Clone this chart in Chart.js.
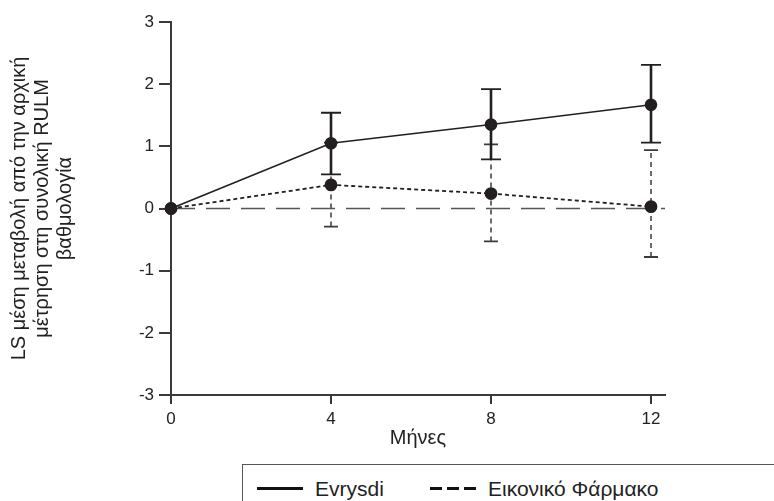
<!DOCTYPE html>
<html>
<head>
<meta charset="utf-8">
<script src="https://cdn.jsdelivr.net/npm/chart.js@4"></script>
<style>
  html, body { margin: 0; padding: 0; background: #ffffff; overflow: hidden; }
  #wrap { position: relative; width: 774px; height: 501px; }
  #legend {
    position: absolute; left: 242px; top: 464px; width: 560px; height: 60px;
    border: 1.5px solid #555; box-sizing: border-box; background: #fff;
    font-family: "Liberation Sans", Arial, sans-serif; font-size: 21px; color: #222;
  }
  #legend .item { position: absolute; top: 11px; line-height: 26px; white-space: nowrap; }
  #legend .sample { display: inline-block; vertical-align: middle; width: 46px; height: 3px; margin-right: 12px; position: relative; top: -2px; }
</style>
</head>
<body>
<div id="wrap">
  <canvas id="c" width="774" height="501"></canvas>
  <div id="legend">
    <div class="item" style="left:14px"><span class="sample" style="background:#111;"></span>Evrysdi</div>
    <div class="item" style="left:187px"><span class="sample" style="height:2.5px;background:repeating-linear-gradient(to right,#111 0 12px,transparent 12px 17px);"></span>Εικονικό Φάρμακο</div>
  </div>
</div>
<script>
// ---- data ----
const months = [0, 4, 8, 12];
const xTicks = [0, 4, 8, 12];
const yTicks = [-3, -2, -1, 0, 1, 2, 3];
const evrysdi = [0, 1.05, 1.35, 1.67];
const evrysdiLow = [null, 0.55, 0.79, 1.06];
const evrysdiHigh = [null, 1.54, 1.92, 2.31];
const placebo = [0, 0.38, 0.24, 0.03];
const placeboLow = [null, -0.29, -0.53, -0.78];
const placeboHigh = [null, 1.06, 1.03, 0.94];
const refX = [0, 12.35];
const refY = [0, 0];
const seriesNames = ['Evrysdi', 'Εικονικό Φάρμακο'];
const xTitle = 'Μήνες';
const yTitle = ['LS μέση μεταβολή από την αρχική', 'μέτρηση στη συνολική RULM', 'βαθμολογία'];

const FONT = '"Liberation Sans", Arial, sans-serif';
const INK = '#231f20';
const AXIS = '#3a3a3a';

const toPts = (xs, ys) => xs.map((x, i) => ({x: x, y: ys[i]}));

const errorBars = {
  id: 'errorBars',
  beforeDatasetsDraw(chart) {
    const ctx = chart.ctx;
    const xs = chart.scales.x, ys = chart.scales.y;
    const sets = [
      {lo: placeboLow, hi: placeboHigh, width: 1.5, dash: [5, 4], cap: 7, color: '#3a3a3a'},
      {lo: evrysdiLow, hi: evrysdiHigh, width: 2.6, dash: [], cap: 10, color: INK}
    ];
    ctx.save();
    sets.forEach(s => {
      months.forEach((m, i) => {
        if (s.lo[i] == null) return;
        const px = xs.getPixelForValue(m);
        const y1 = ys.getPixelForValue(s.lo[i]);
        const y2 = ys.getPixelForValue(s.hi[i]);
        ctx.strokeStyle = s.color;
        ctx.lineWidth = s.width;
        ctx.setLineDash(s.dash);
        ctx.beginPath(); ctx.moveTo(px, y1); ctx.lineTo(px, y2); ctx.stroke();
        ctx.setLineDash([]);
        ctx.lineWidth = 1.8;
        ctx.beginPath();
        ctx.moveTo(px - s.cap, y1); ctx.lineTo(px + s.cap, y1);
        ctx.moveTo(px - s.cap, y2); ctx.lineTo(px + s.cap, y2);
        ctx.stroke();
      });
    });
    ctx.restore();
  }
};

new Chart(document.getElementById('c'), {
  type: 'line',
  data: {
    datasets: [
      {
        label: 'ref', data: toPts(refX, refY), borderColor: '#555', borderWidth: 1.3,
        borderDash: [24, 11], pointRadius: 0, clip: false, order: 3
      },
      {
        label: seriesNames[1], data: toPts(months, placebo), borderColor: INK, borderWidth: 1.8,
        borderDash: [4, 3], pointRadius: 5.5, pointBackgroundColor: INK, pointBorderColor: INK,
        clip: false, order: 2
      },
      {
        label: seriesNames[0], data: toPts(months, evrysdi), borderColor: INK, borderWidth: 1.6,
        pointRadius: 5.5, pointBackgroundColor: INK, pointBorderColor: INK, clip: false, order: 1
      }
    ]
  },
  options: {
    responsive: false,
    animation: false,
    layout: { padding: { top: 22, right: 109, bottom: 0, left: 0 } },
    plugins: { legend: { display: false }, tooltip: { enabled: false } },
    scales: {
      x: {
        type: 'linear', min: 0, max: refX[1],
        afterBuildTicks: s => { s.ticks = xTicks.map(v => ({value: v})); },
        afterFit: s => { s.height = 106; },
        grid: { drawOnChartArea: false, color: AXIS, lineWidth: 2, tickLength: 9 },
        border: { color: AXIS, width: 2 },
        ticks: { color: '#222', font: { family: FONT, size: 17 }, padding: 5, maxRotation: 0 },
        title: { display: true, text: xTitle, color: '#222', font: { family: FONT, size: 20, lineHeight: 1.2 }, padding: { top: 0, bottom: 51 } }
      },
      y: {
        type: 'linear', min: -3, max: 3,
        afterBuildTicks: s => { s.ticks = yTicks.map(v => ({value: v})); },
        afterFit: s => { s.width = 171; },
        grid: { drawOnChartArea: false, color: AXIS, lineWidth: 2, tickLength: 12 },
        border: { color: AXIS, width: 2 },
        ticks: { color: '#222', font: { family: FONT, size: 17 }, padding: 5 },
        title: { display: true, text: yTitle, color: '#222', font: { family: FONT, size: 20, lineHeight: 1.15 }, padding: { top: 8, bottom: 0 } }
      }
    }
  },
  plugins: [errorBars]
});
</script>
</body>
</html>
